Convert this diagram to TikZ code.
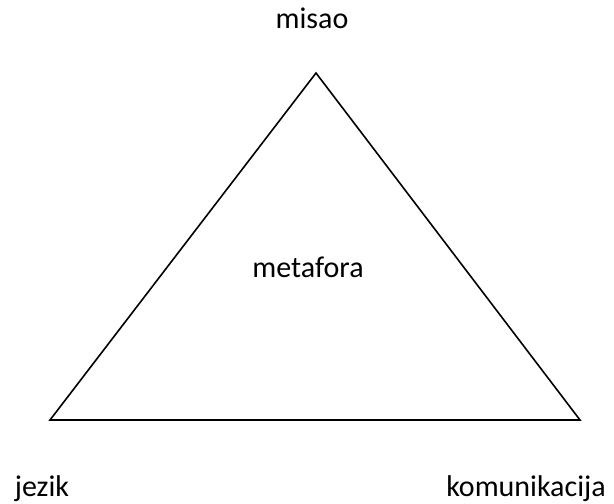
\documentclass[tikz,border=0pt]{standalone}
\usepackage{fontspec}
\setmainfont{Carlito}
\begin{document}
\begin{tikzpicture}[x=1pt,y=-1pt,
  lbl/.style={font=\fontsize{30}{36}\selectfont, inner sep=0pt, anchor=base}]
\useasboundingbox (0,0) rectangle (614,504);
\coordinate (top) at (316,73);
\coordinate (bl) at (50,420);
\coordinate (br) at (580,420);
\draw[line width=1.6pt, line join=miter] (top) -- (bl) -- (br) -- cycle;
\node[lbl] (misao) at (312,28) {misao};
\node[lbl] (metafora) at (308,277) {metafora};
\node[lbl] (jezik) at (42,496) {jezik};
\node[lbl] (komunikacija) at (526,496) {komunikacija};
\end{tikzpicture}
\end{document}
